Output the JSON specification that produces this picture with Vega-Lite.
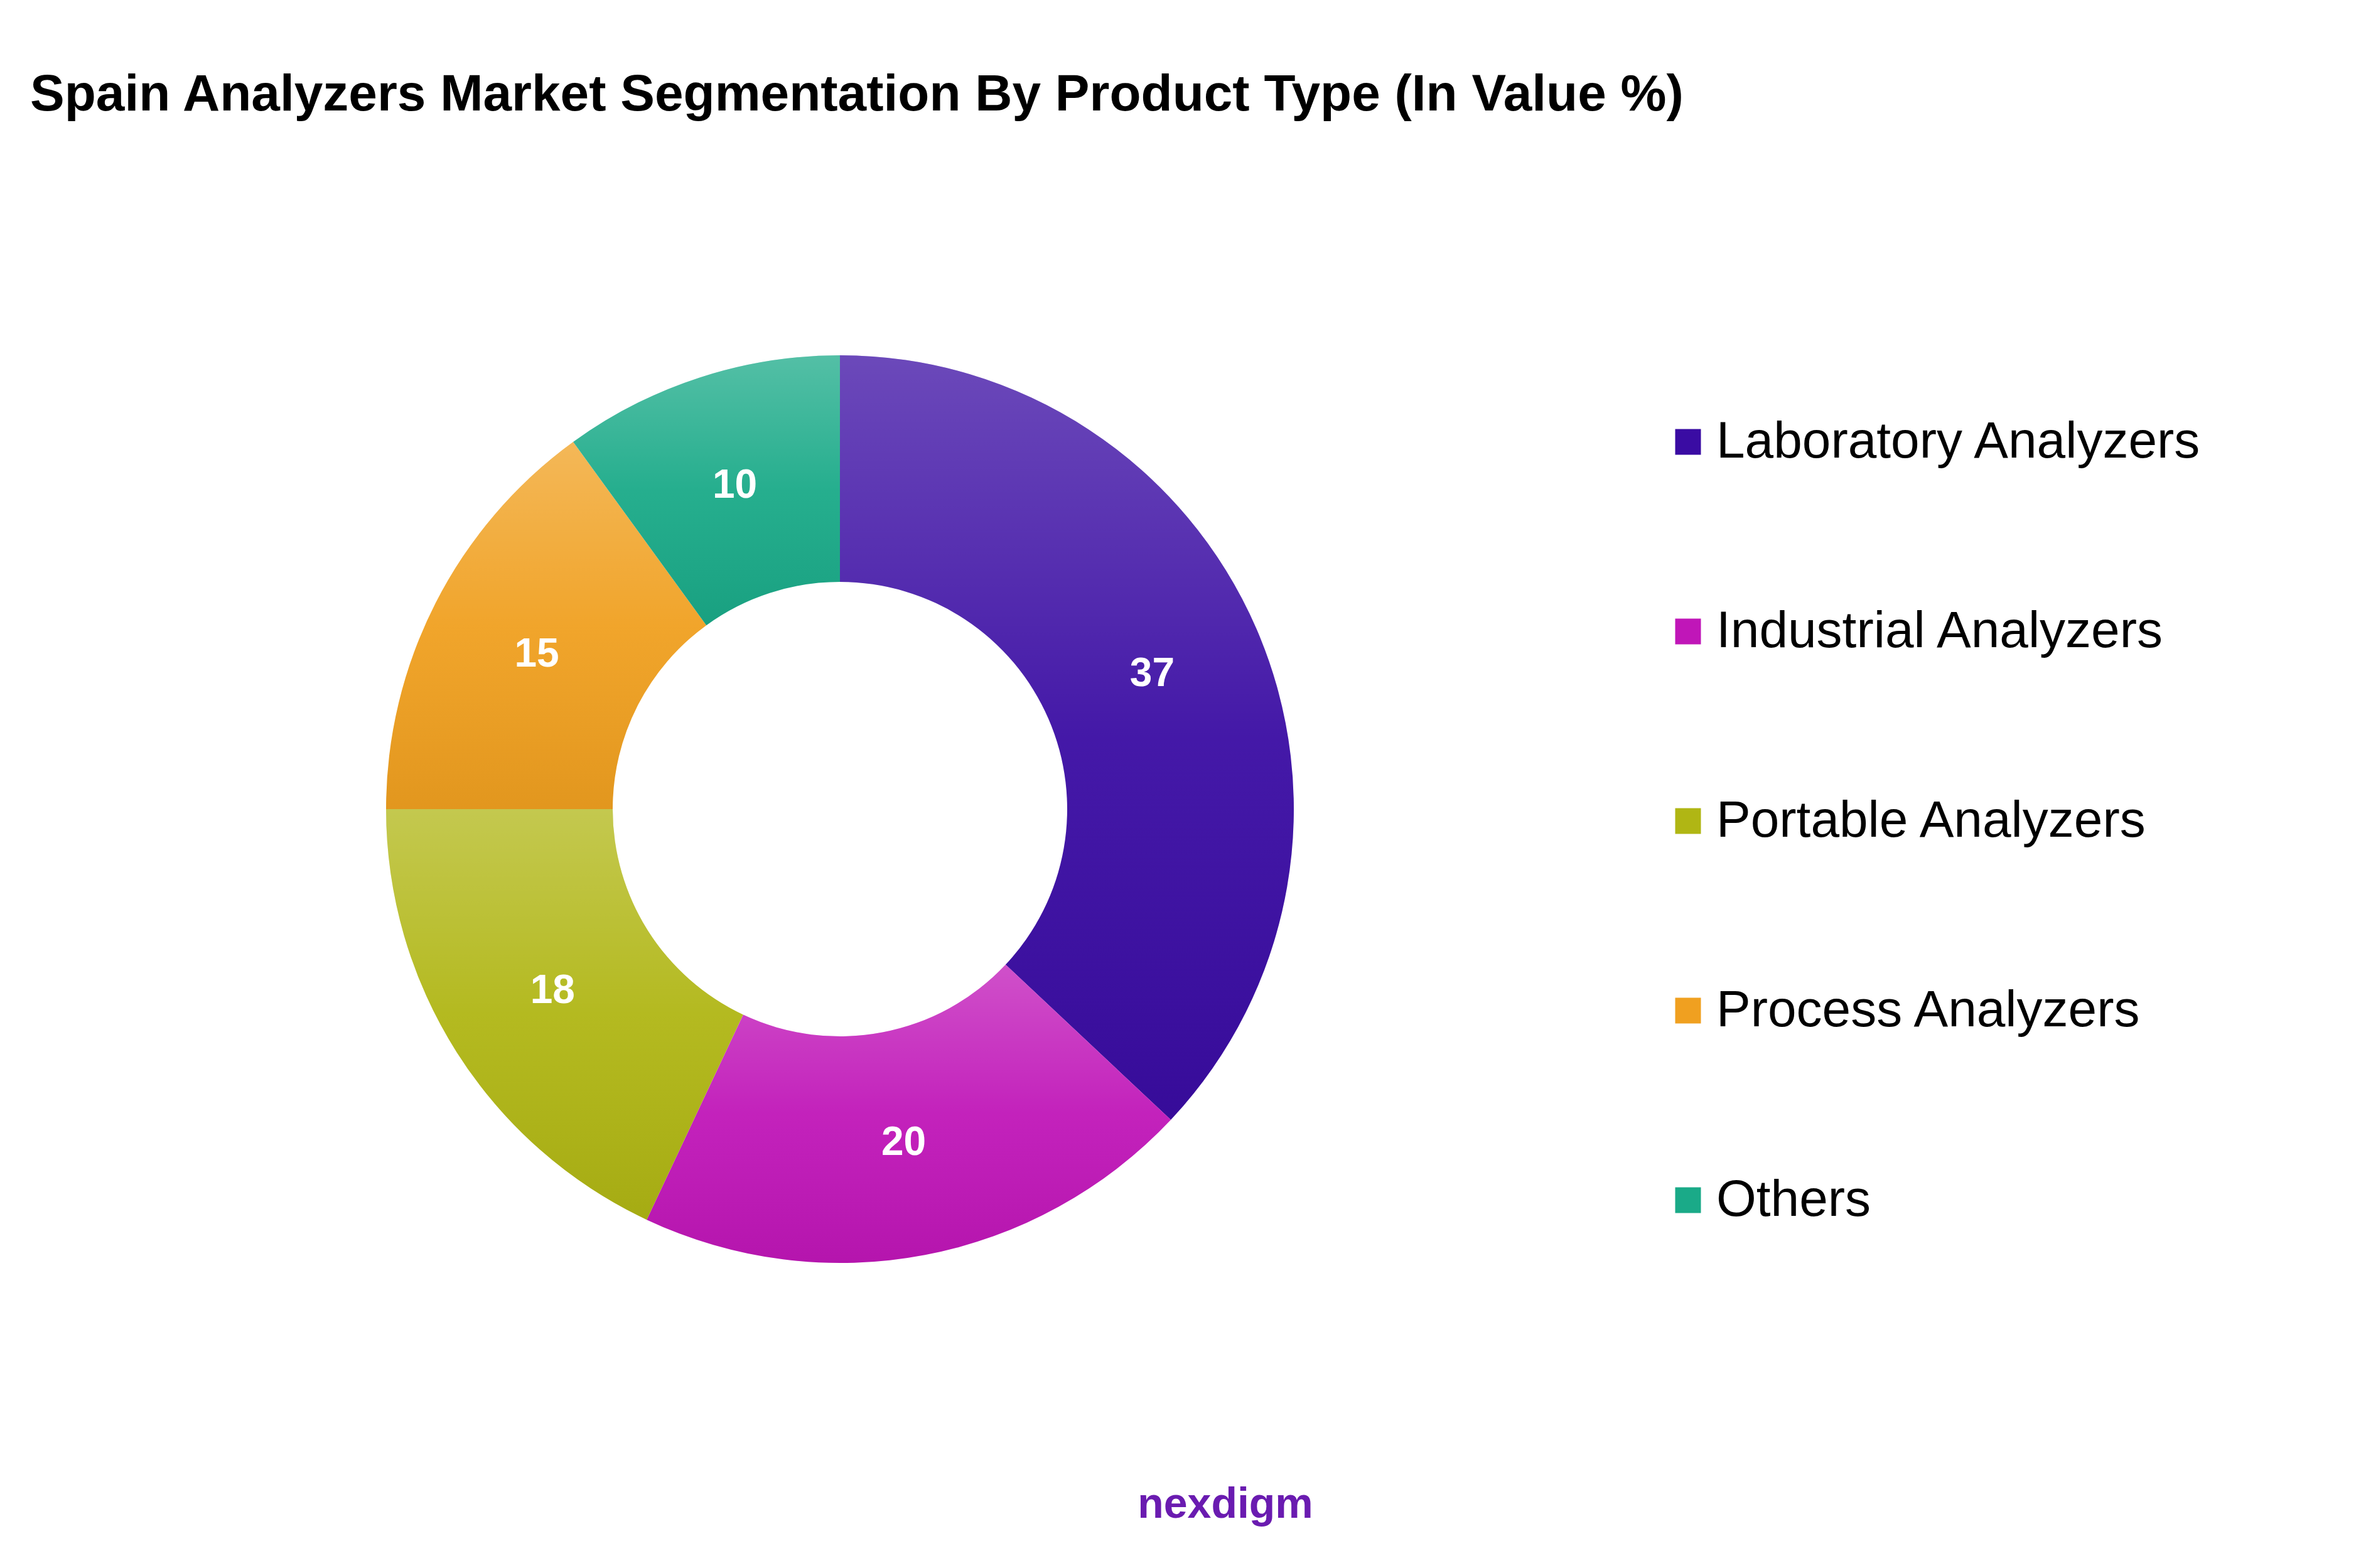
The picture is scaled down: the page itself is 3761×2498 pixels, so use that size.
{
  "$schema": "https://vega.github.io/schema/vega-lite/v6.json",
  "padding": {"left": 48, "top": 110, "right": 0, "bottom": 0},
  "background": "white",
  "title": {
    "text": "Spain Analyzers Market Segmentation By Product Type (In Value %)",
    "anchor": "start",
    "fontSize": 82,
    "font": "Liberation Sans",
    "fontWeight": "bold",
    "color": "black",
    "offset": 57,
    "baseline": "top"
  },
  "data": {
    "values": [
      {"Segment": "Laboratory Analyzers", "Share": 37},
      {"Segment": "Industrial Analyzers", "Share": 20},
      {"Segment": "Portable Analyzers", "Share": 18},
      {"Segment": "Process Analyzers", "Share": 15},
      {"Segment": "Others", "Share": 10}
    ]
  },
  "config": {"view": {"stroke": null}},
  "vconcat": [
    {
      "width": 2580,
      "height": 2078,
      "layer": [
        {
          "mark": {"type": "arc", "outerRadius": 723, "innerRadius": 362},
          "encoding": {
            "theta": {"field": "Share", "type": "quantitative", "stack": true},
            "order": {"field": "Share", "type": "quantitative", "sort": "descending"},
            "color": {
              "field": "Segment",
              "type": "nominal",
              "sort": ["Laboratory Analyzers", "Industrial Analyzers", "Portable Analyzers", "Process Analyzers", "Others"],
              "scale": {
                "domain": ["Laboratory Analyzers", "Industrial Analyzers", "Portable Analyzers", "Process Analyzers", "Others"],
                "range": ["#3a0ca3", "#c016b8", "#b0b614", "#f0a020", "#1aaa88"]
              },
              "legend": {
                "title": null,
                "orient": "none",
                "legendX": 2600,
                "legendY": 413,
                "symbolType": "square",
                "symbolSize": 1681,
                "symbolStrokeWidth": 0,
                "labelFontSize": 82,
                "labelFont": "Liberation Sans",
                "labelColor": "black",
                "labelOffset": 4,
                "labelLimit": 2000,
                "rowPadding": 220
              }
            }
          }
        },
        {
          "mark": {
            "type": "arc",
            "outerRadius": 723,
            "innerRadius": 362,
            "fill": {
              "gradient": "linear",
              "x1": 0, "y1": 0, "x2": 0, "y2": 1,
              "stops": [
                {"offset": 0, "color": "rgba(255,255,255,0.25)"},
                {"offset": 0.5, "color": "rgba(255,255,255,0.05)"},
                {"offset": 1, "color": "rgba(0,0,0,0.06)"}
              ]
            }
          },
          "encoding": {
            "theta": {"field": "Share", "type": "quantitative", "stack": true},
            "order": {"field": "Share", "type": "quantitative", "sort": "descending"},
            "detail": {"field": "Segment", "type": "nominal"}
          }
        },
        {
          "mark": {"type": "text", "radius": 542, "fontSize": 64, "fontWeight": "bold", "font": "Liberation Sans", "fill": "white"},
          "encoding": {
            "theta": {"field": "Share", "type": "quantitative", "stack": true},
            "order": {"field": "Share", "type": "quantitative", "sort": "descending"},
            "text": {"field": "Share", "type": "quantitative"}
          }
        }
      ]
    },
    {
      "width": 3808,
      "height": 100,
      "data": {"values": [{"brand": "nexdigm"}]},
      "mark": {"type": "text", "fontSize": 68, "fontWeight": "bold", "font": "Liberation Sans", "fill": "#6a1bb0"},
      "encoding": {"text": {"field": "brand", "type": "nominal"}}
    }
  ]
}
